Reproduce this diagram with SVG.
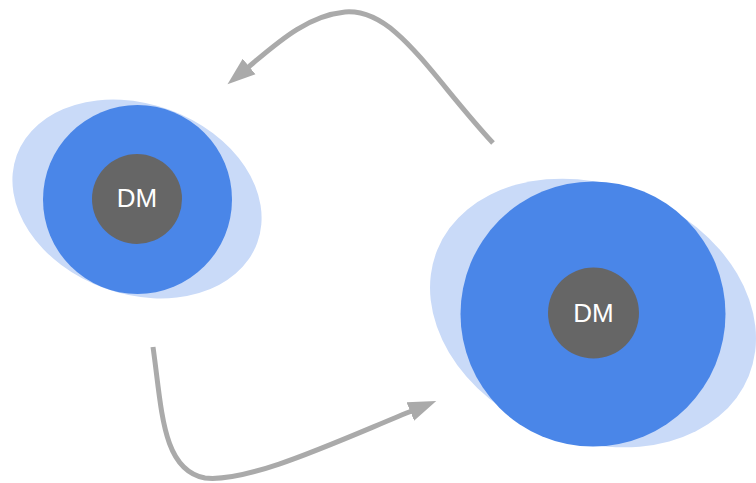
<svg xmlns="http://www.w3.org/2000/svg" width="756" height="483" viewBox="0 0 756 483">
  <style>
    .halo { fill: #c9daf8; }
    .ring { fill: #4a86e8; }
    .core { fill: #666666; }
    .label { fill: #ffffff; font-family: 'Liberation Sans', Arial, sans-serif; font-size: 26px; text-anchor: middle; }
    .flow { fill: none; stroke: #aaaaaa; stroke-width: 5; stroke-linecap: butt; }
  </style>
  <defs>
    <marker id="arrow" markerUnits="userSpaceOnUse" markerWidth="30" markerHeight="24" refX="4" refY="10" orient="auto" viewBox="0 0 30 20">
      <path d="M0,0 L28,10 L0,20 Z" fill="#aaaaaa"/>
    </marker>
  </defs>
  <rect width="756" height="483" fill="#ffffff"/>

  <g id="node-left">
    <ellipse class="halo" cx="137" cy="199" rx="128" ry="95" transform="rotate(20 137 199)"/>
    <circle class="ring" cx="137.5" cy="199.5" r="94.5"/>
    <circle class="core" cx="137" cy="199" r="45"/>
    <text class="label" x="137" y="207">DM</text>
  </g>

  <g id="node-right">
    <ellipse class="halo" cx="593" cy="313" rx="168" ry="128" transform="rotate(22 593 313)"/>
    <circle class="ring" cx="593" cy="314" r="132.5"/>
    <circle class="core" cx="593.5" cy="313" r="45.5"/>
    <text class="label" x="593.5" y="322">DM</text>
  </g>

  <g id="connectors">
    <path class="flow" d="M493,143 C430,75 395,8 345,12 C305,16 275,45 246,69" marker-end="url(#arrow)"/>
    <path class="flow" d="M153,347 C162,410 162,470 205,478 C250,483 340,440 414,410" marker-end="url(#arrow)"/>
  </g>
</svg>
